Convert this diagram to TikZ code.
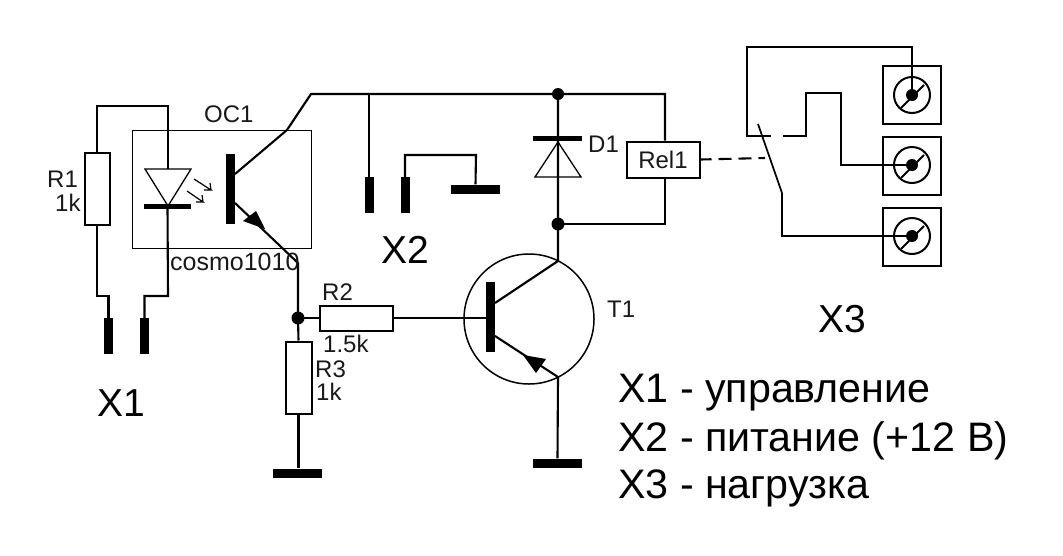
\documentclass[tikz,border=0pt]{standalone}
\usepackage{fontspec}
\setmainfont{Liberation Sans}
\tikzset{
  wire/.style={line width=2.1pt,line join=miter},
  thinwire/.style={line width=1.3pt},
  res/.style={draw,line width=2pt,fill=white,inner sep=0pt,rectangle},
  bar/.style={fill=black,inner sep=0pt,rectangle},
  jn/.style={circle,fill=black,inner sep=0pt,minimum size=12pt},
  term/.style={draw,line width=2pt,inner sep=0pt,rectangle,minimum size=58pt},
  ring/.style={draw,line width=2pt,circle,inner sep=0pt,minimum size=36pt},
  hub/.style={circle,fill=black,inner sep=0pt,minimum size=12pt},
  small/.style={font=\fontsize{24}{24}\selectfont,inner sep=0pt,text=black!90},
  big/.style={font=\fontsize{39}{39}\selectfont,inner sep=0pt,text=black},
  legend/.style={font=\fontsize{41.2}{41.2}\selectfont,inner sep=0pt,text=black},
}
\begin{document}
\begin{tikzpicture}[x=1pt,y=-1pt]
\useasboundingbox (0,0) rectangle (1063,555);
% coordinates
\coordinate (topL) at (97,106);
\coordinate (topR) at (168,106);
\coordinate (x1a) at (97,296);
\coordinate (x1b) at (168,296);
\coordinate (oc) at (287,130);
\coordinate (railL) at (311,94);
\coordinate (railR) at (665,94);
\coordinate (coilB) at (665,224);
\coordinate (qe1) at (235,203);
\coordinate (qc1) at (235,174);
\coordinate (qbend) at (298,263);
\coordinate (t2c) at (558,261);
\coordinate (t2e) at (558,377);
\coordinate (c2) at (495,303);
\coordinate (e2) at (495,336);
% optocoupler frame
\node[draw,line width=1pt,inner sep=0pt,minimum width=179pt,minimum height=118pt] (ocbox) at (221.5,189) {};
% resistors
\node[res,minimum width=25pt,minimum height=72pt] (r1) at (97,188.5) {};
\node[res,minimum width=73pt,minimum height=25pt] (r2) at (356,318) {};
\node[res,minimum width=26pt,minimum height=72pt] (r3) at (298.5,377.5) {};
% bars
\node[bar,minimum width=9pt,minimum height=36pt] (x1l) at (108.5,336) {};
\node[bar,minimum width=9pt,minimum height=36pt] (x1r) at (144.5,336) {};
\node[bar,minimum width=9pt,minimum height=36pt] (x2l) at (369,195) {};
\node[bar,minimum width=9pt,minimum height=36pt] (x2r) at (405,195) {};
\node[bar,minimum width=49pt,minimum height=9pt] (gnd0) at (475.5,189) {};
\node[bar,minimum width=49pt,minimum height=9pt] (gnd1) at (297.5,473) {};
\node[bar,minimum width=49pt,minimum height=9pt] (gnd2) at (557.5,463) {};
\node[bar,minimum width=9pt,minimum height=70pt] (q1) at (230.5,189) {};
\node[bar,minimum width=9pt,minimum height=70pt] (q2) at (490.5,316.5) {};
\node[bar,minimum width=47pt,minimum height=5pt] (ledbar) at (167.5,206.5) {};
\node[bar,minimum width=49pt,minimum height=5pt] (dbar) at (557.5,138.5) {};
% Rel
\node[res,minimum width=73pt,minimum height=36pt] (rel) at (663,159.5) {};
% Wires left
\draw[wire] (ledbar.center) -- (x1b) -- (x1b -| x1r) -- (x1r.north);
\draw[wire] (168,169) -- (topR) -- (topL) -- (r1.north);
\draw[wire] (r1.south) -- (x1a) -- (x1a -| x1l) -- (x1l.north);
% LED
\draw[thinwire] (145,169) -- (191,169) -- (168,206) -- cycle;
\coordinate (a1s) at (194,179); \coordinate (a1e) at (211,190);
\coordinate (a2s) at (187,191); \coordinate (a2e) at (203,202);
\draw[line width=1.2pt] (a1s) -- (a1e) -- +(-7,0) (a1e) -- +(-1,-7);
\draw[line width=1.2pt] (a2s) -- (a2e) -- +(-7,0) (a2e) -- +(-1,-7);
% opto transistor
\draw[wire] (qc1) -- (oc) -- (railL) -- (railR) -- (rel.north -| railR);
\draw[wire] (rel.south -| coilB) -- (coilB) -- (558,224);
\draw[wire] (qe1) -- (qbend) -- (298,318);
\fill (243,221) -- (256,211) -- (265,229) -- cycle;
% T1
\node[draw,line width=1.5pt,circle,inner sep=0pt,minimum size=130pt] (t1) at (529,319) {};
\draw[wire] (558,94) -- (t2c) -- (c2);
\draw[thinwire] (535,177) -- (581,177) -- (558,142) -- cycle;
\draw[wire] (e2) -- (t2e) -- (gnd2.north);
\fill (523,355) -- (546,359) -- (536,373) -- cycle;
% base
\draw[wire] (r2.east) -- (q2.west |- r2.east);
\draw[wire] (298,318) -- (r2.west);
\draw[wire] (r3.north) -- (298,318);
\draw[wire] (r3.south) -- (gnd1.north -| r3.south);
% X2
\draw[wire] (369,94) -- (x2l.north);
\draw[wire] (x2r.north) -- (405,155) -- (476,155) -- (gnd0.north);
% junctions
\node[jn] (j1) at (558,94) {};
\node[jn,minimum size=13pt] (j2) at (558,224) {};
\node[jn,minimum size=13pt] (j3) at (298,318) {};
% relay contact
\node[term] (t3a) at (911.5,94.5) {};
\node[term] (t3b) at (911.5,165.5) {};
\node[term] (t3c) at (911.5,236.5) {};
\foreach \n/\y in {a/95,b/165,c/236}{
  \node[ring] (ring\n) at (912,\y) {};
  \node[hub] (hub\n) at (912,\y) {};
  \draw[line width=2pt] (901,\y+13) -- (924,\y-10);
}
\draw[wire] (huba.center) -- (912,47) -- (747,47) -- (747,136) -- (771,136);
\draw[wire] (783,136) -- (806,136) -- (806,93) -- (841,93) -- (841,165) -- (hubb.center);
\draw[line width=1.7pt] (758,124) -- (782,193);
\draw[wire] (782,193) -- (782,236) -- (hubc.center);
\draw[line width=2.1pt,dash pattern=on 13pt off 7pt,dash phase=2pt] (rel.east) -- (765,158);
% labels
\node[small,anchor=base west] (lb1) at (204,122) {OC1};
\node[small,font=\fontsize{25}{25}\selectfont,anchor=base west] (lb2) at (170,270) {cosmo1010};
\node[small,anchor=base west] (lb3) at (47,187) {R1};
\node[small,anchor=base west] (lb4) at (55,211) {1k};
\node[small,anchor=base west] (lb5) at (322,300) {R2};
\node[small,anchor=base west] (lb6) at (323,352) {1.5k};
\node[small,anchor=base west] (lb7) at (315,377) {R3};
\node[small,anchor=base west] (lb8) at (316,400) {1k};
\node[small,anchor=base west] (lb9) at (588,152) {D1};
\node[small,anchor=base west] (lb10) at (607,317) {T1};
\node[small,anchor=center] (lb11) at (663,159.5) {Rel1};
\node[big,anchor=base west] (x1t) at (97,416) {X1};
\node[big,anchor=base west] (x2t) at (381,263) {X2};
\node[big,anchor=base west] (x3t) at (818,332) {X3};
\node[legend,anchor=base west] (l1) at (618,402) {X1 - управление};
\node[legend,anchor=base west] (l2) at (618,451) {X2 - питание (+12 В)};
\node[legend,anchor=base west] (l3) at (618,498) {X3 - нагрузка};
\end{tikzpicture}
\end{document}
